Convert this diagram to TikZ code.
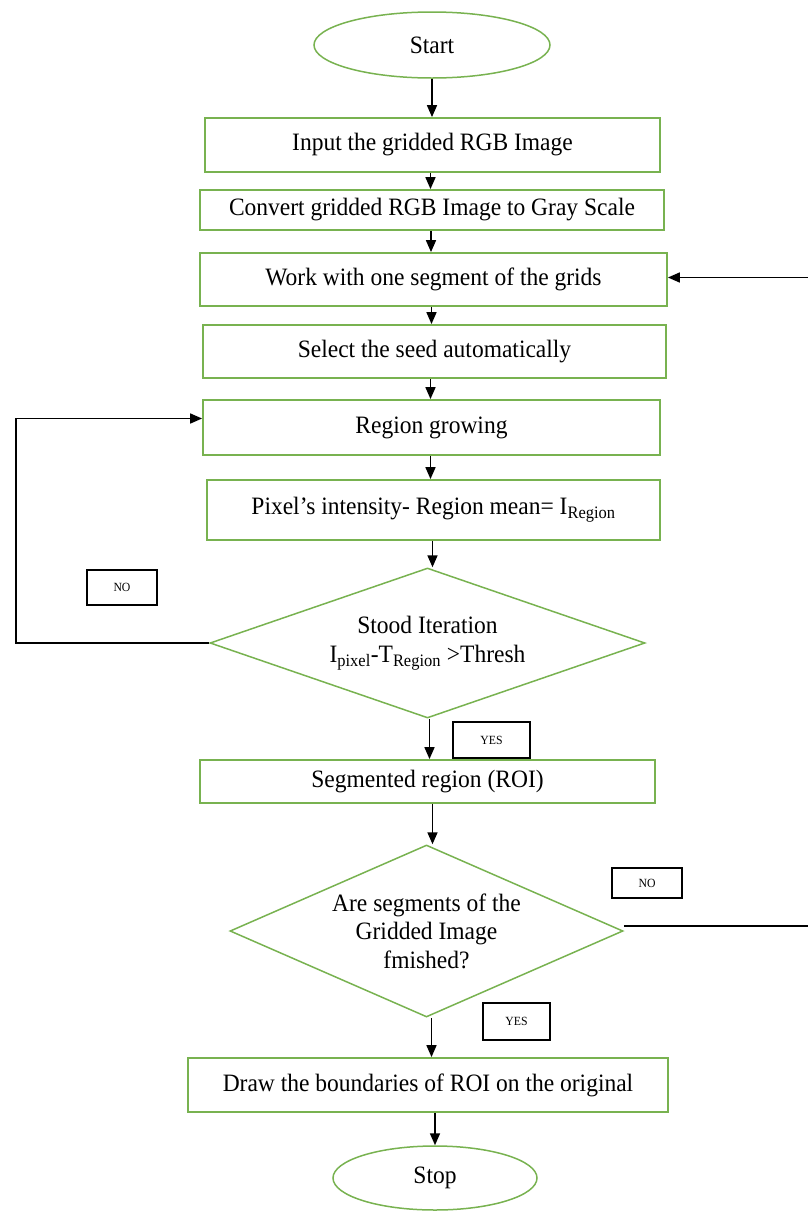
\documentclass[tikz,border=0pt]{standalone}
\usepackage{fontspec}
\setmainfont[FakeStretch=0.94]{Liberation Serif}
\usetikzlibrary{shapes.geometric,arrows.meta}
\definecolor{grn}{RGB}{120,178,80}
\begin{document}
\begin{tikzpicture}[x=1pt,y=-1pt,
  mainfont/.style={font=\fontsize{25}{29}\selectfont},
  box/.style={draw=grn,line width=1.8pt,rectangle,inner sep=0pt,mainfont},
  term/.style={draw=grn,line width=1.5pt,ellipse,inner sep=0pt,mainfont},
  dec/.style={draw=grn,line width=1.5pt,diamond,inner sep=0pt,align=center,mainfont},
  lbl/.style={draw=black,line width=1.5pt,rectangle,inner sep=0pt,font=\fontsize{12.5}{14}\selectfont},
  arr/.style={draw=black,line width=1.7pt,-{Triangle[length=12pt,width=10pt]}}]
\useasboundingbox (0,0) rectangle (807,1216);

\node[term,minimum width=236pt,minimum height=66pt] (start) at (432,45) {Start};
\node[box,minimum width=455pt,minimum height=54pt] (b1) at (432.5,145) {Input the gridded RGB Image};
\node[box,minimum width=464pt,minimum height=40pt] (b2) at (432,210) {Convert gridded RGB Image to Gray Scale};
\node[box,minimum width=467pt,minimum height=53pt] (b3) at (433.5,279.5) {Work with one segment of the grids};
\node[box,minimum width=463pt,minimum height=53pt] (b4) at (434.5,351.5) {Select the seed automatically};
\node[box,minimum width=457pt,minimum height=55pt] (b5) at (431.5,427.5) {Region growing};
\node[box,minimum width=453pt,minimum height=60pt] (b6) at (433.5,510) {Pixel’s intensity- Region mean= I\textsubscript{Region}};
\node[dec,aspect=2.9,minimum width=435pt,minimum height=150pt] (d1) at (427.5,643)
  {Stood Iteration\\I\textsubscript{pixel}-T\textsubscript{Region} >Thresh};
\node[lbl,minimum width=70pt,minimum height=35pt] (no1) at (122,587.5) {NO};
\node[lbl,minimum width=77pt,minimum height=36pt] (yes1) at (491.5,740) {YES};
\node[box,minimum width=455pt,minimum height=43pt] (b7) at (427.5,781.5) {Segmented region (ROI)};
\node[dec,aspect=2.28,minimum width=393pt,minimum height=172pt,font=\fontsize{25}{28.5}\selectfont] (d2) at (426.5,931)
  {Are segments of the\\Gridded Image\\fmished?};
\node[lbl,minimum width=70pt,minimum height=30pt] (no2) at (647,883) {NO};
\node[lbl,minimum width=67pt,minimum height=37pt] (yes2) at (516.5,1021.5) {YES};
\node[box,minimum width=480pt,minimum height=54pt] (b8) at (428,1085) {Draw the boundaries of ROI on the original};
\node[term,minimum width=204pt,minimum height=64pt] (stop) at (435,1178) {Stop};

\coordinate (loopL) at (16,0);
\coordinate (loopR) at (809.5,0);

\draw[arr] (start.south) -- (start.south |- b1.north);
\draw[arr] ([xshift=-2pt]b1.south) -- ([xshift=-2pt]b1.south |- b2.north);
\draw[arr] ([xshift=-1pt]b2.south) -- ([xshift=-1pt]b2.south |- b3.north);
\draw[arr] ([xshift=-2pt]b3.south) -- ([xshift=-2pt]b3.south |- b4.north);
\draw[arr] ([xshift=-4pt]b4.south) -- ([xshift=-4pt]b4.south |- b5.north);
\draw[arr] ([xshift=-1pt]b5.south) -- ([xshift=-1pt]b5.south |- b6.north);
\draw[arr] ([xshift=-1pt]b6.south) -- ([xshift=-1pt]b6.south |- d1.north);
\draw[arr] ([xshift=2pt]d1.south) -- ([xshift=2pt]d1.south |- b7.north);
\draw[arr] ([xshift=5pt]b7.south) -- ([xshift=5pt]b7.south |- d2.north);
\draw[arr] ([xshift=5pt]d2.south) -- ([xshift=5pt]d2.south |- b8.north);
\draw[arr] ([xshift=7pt]b8.south) -- ([xshift=7pt]b8.south |- stop.north);

\draw[arr] (d1.west) -- (d1.west -| loopL) |- ([yshift=9pt]b5.west);
\draw[arr] ([yshift=5pt]d2.east) -- ([yshift=5pt]d2.east -| loopR) |- ([yshift=2pt]b3.east);
\end{tikzpicture}
\end{document}
